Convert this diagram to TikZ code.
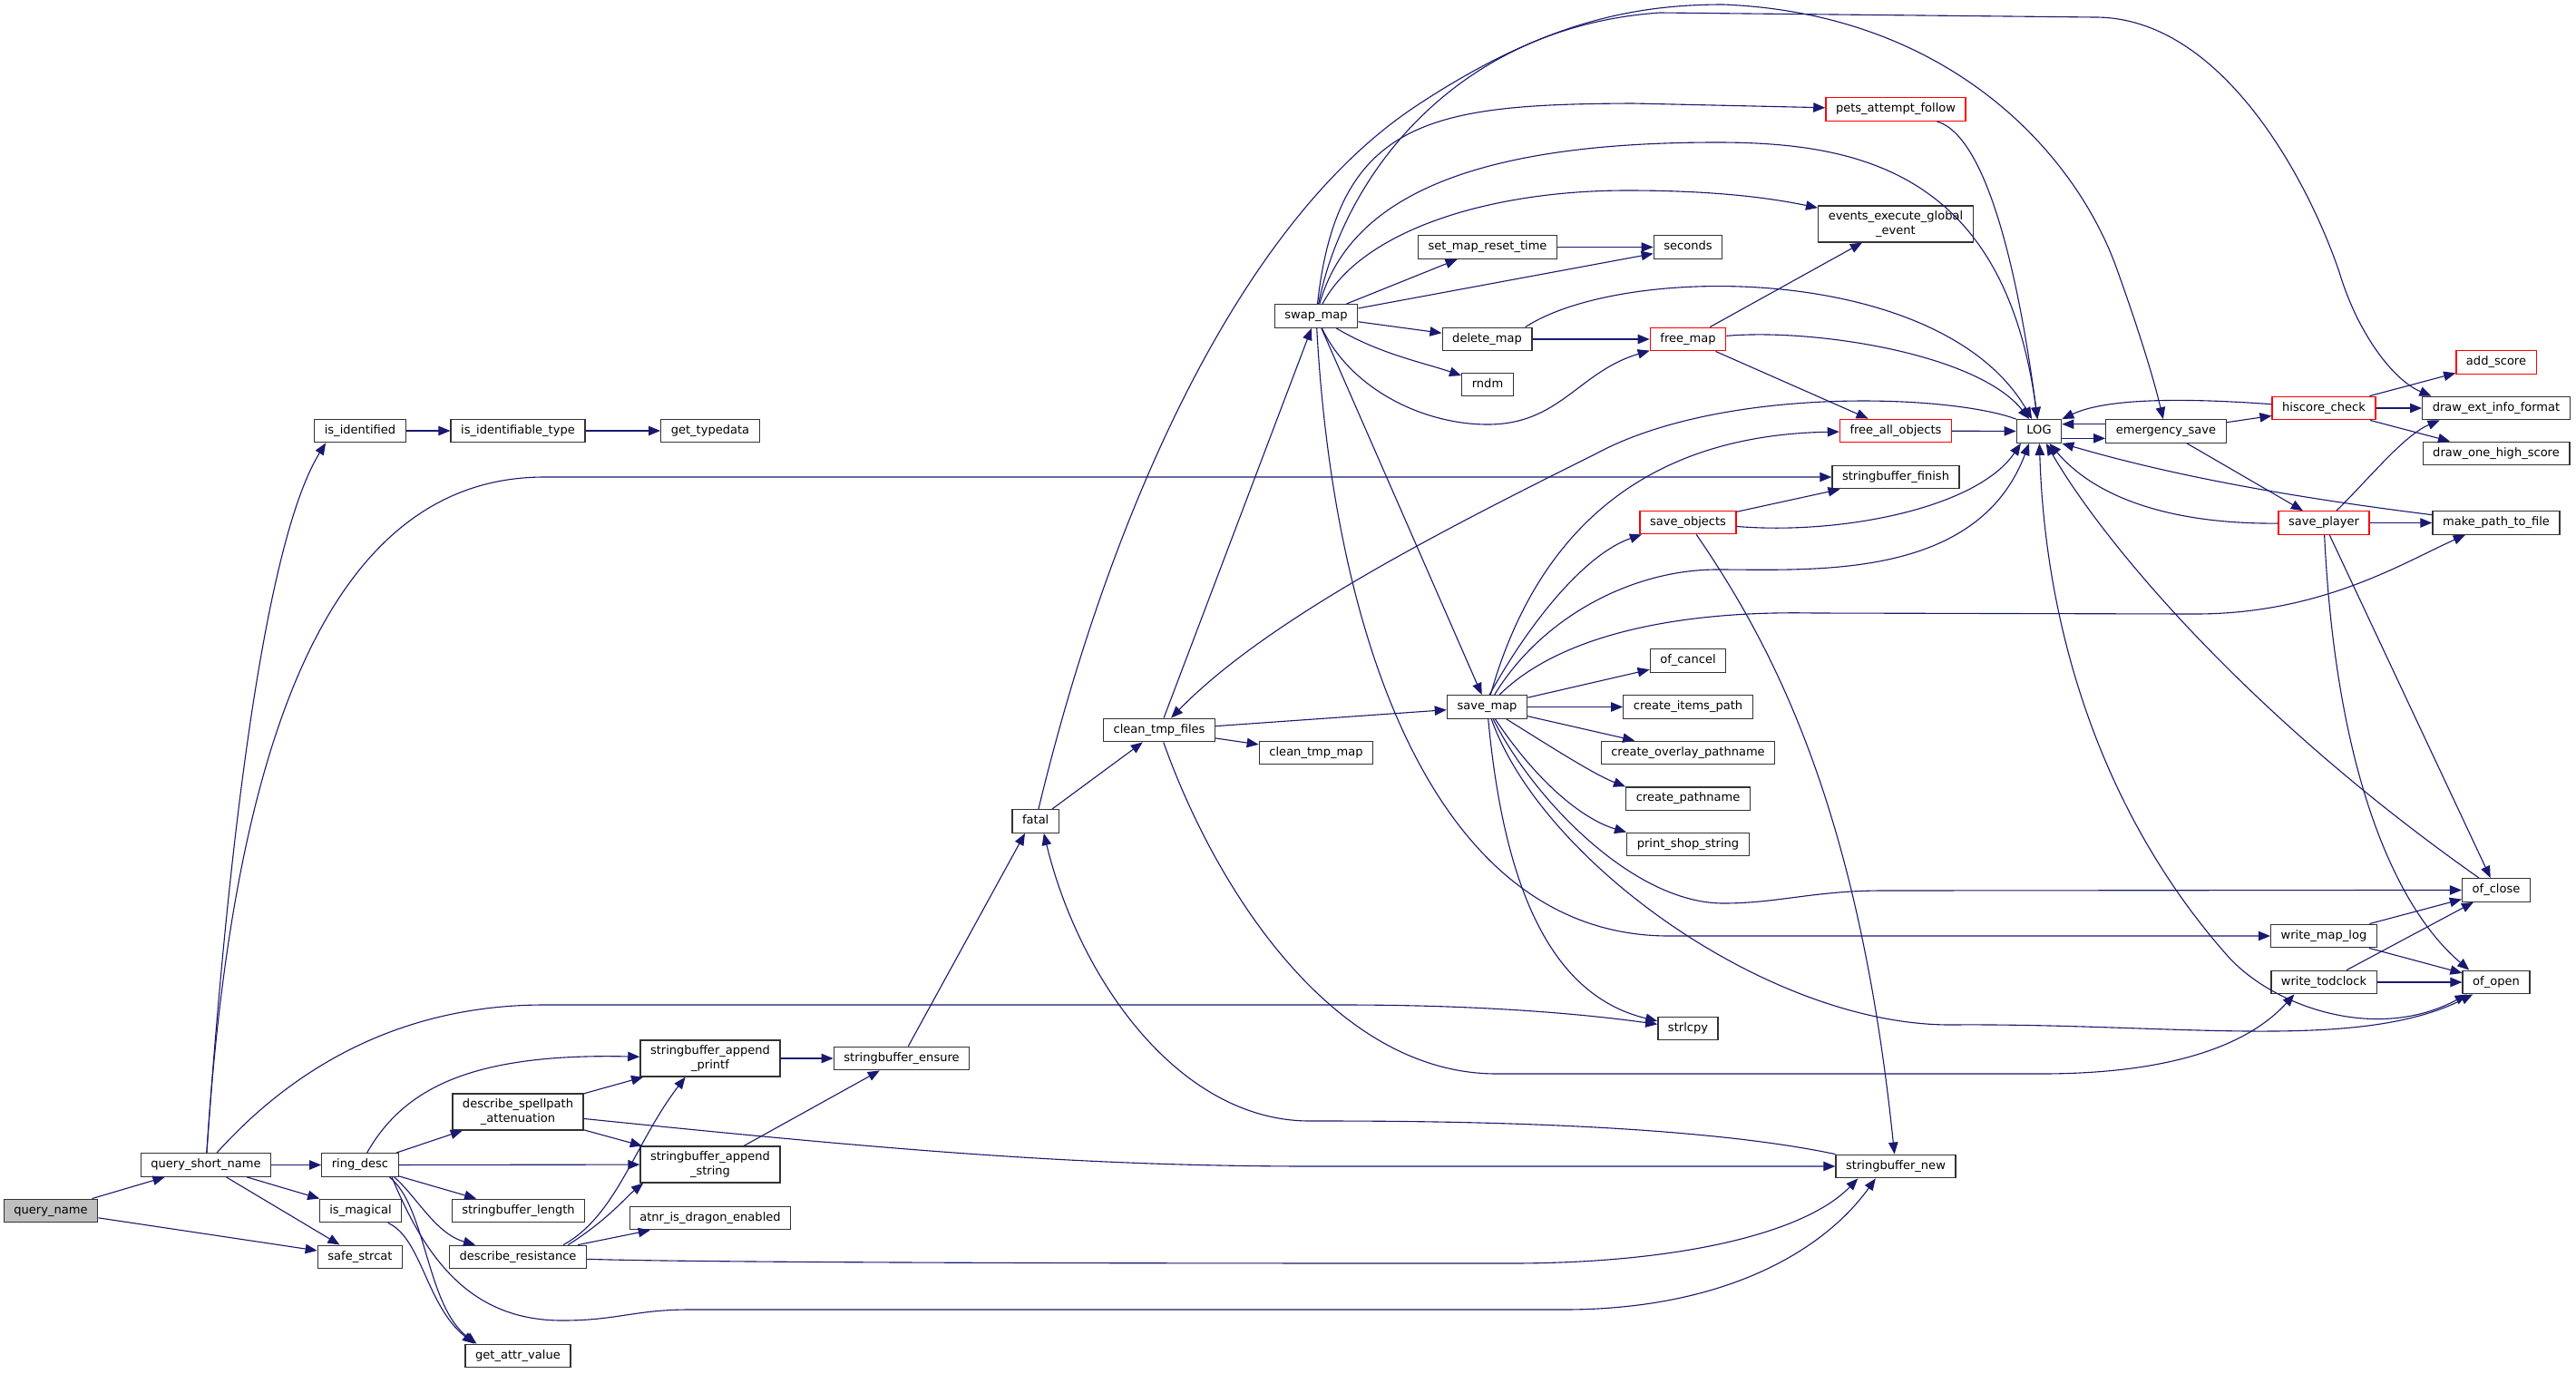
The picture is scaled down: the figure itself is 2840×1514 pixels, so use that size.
\documentclass[tikz,border=0pt]{standalone}
\usepackage{fontspec}
\setmainfont{DejaVu Sans}
\usetikzlibrary{arrows.meta}
\definecolor{edgeblue}{HTML}{191970}
\definecolor{rootgray}{HTML}{BFBFBF}
\definecolor{boxgray}{HTML}{333333}
\tikzset{
  box/.style={draw=boxgray, fill=white, line width=1pt, inner xsep=8.5pt, font=\fontsize{10}{12}\selectfont},
  fn/.style={box, inner ysep=3pt, minimum height=19.6pt, text height=7.3pt, text depth=2.3pt},
  fntwo/.style={box, align=center, inner ysep=4.3pt},
  redbox/.style={draw=red},
  root/.style={fill=rootgray},
  call/.style={->, color=edgeblue, line width=0.85pt}
}
\begin{document}
\begin{tikzpicture}[x=0.767pt, y=-0.767pt, >={Triangle[length=10pt,width=8pt]}]
  \fill[white] (0,0) rectangle (2840,1514);
  \useasboundingbox (0,0) rectangle (2840,1514);

  \node[fn, root] (qn) at (56,1335) {query\_name};
  \node[fn] (qsn) at (227,1284.5) {query\_short\_name};
  \node[fn] (rd) at (397,1284.5) {ring\_desc};
  \node[fn] (ism) at (397.5,1335) {is\_magical};
  \node[fn] (ssc) at (397,1386) {safe\_strcat};
  \node[fn] (isid) at (397,475) {is\_identified};
  \node[fn] (isidt) at (571,475) {is\_identifiable\_type};
  \node[fn] (gtd) at (783,475) {get\_typedata};
  \node[fntwo] (dsa) at (571,1226) {describe\_spellpath\\\_attenuation};
  \node[fn] (sbl) at (571.5,1335) {stringbuffer\_length};
  \node[fn] (dres) at (571,1386) {describe\_resistance};
  \node[fn] (gav) at (571,1495) {get\_attr\_value};
  \node[fntwo] (sbap) at (783,1167) {stringbuffer\_append\\\_printf};
  \node[fntwo] (sbas) at (783,1284) {stringbuffer\_append\\\_string};
  \node[fn] (atnr) at (783,1343) {atnr\_is\_dragon\_enabled};
  \node[fn] (sbe) at (994,1167) {stringbuffer\_ensure};
  \node[fn] (fatal) at (1141.7,905.5) {fatal};
  \node[fn] (ctf) at (1278,805) {clean\_tmp\_files};
  \node[fn] (ctm) at (1451,830) {clean\_tmp\_map};
  \node[fn] (swap) at (1451,348.5) {swap\_map};
  \node[fn] (smrt) at (1640,272.5) {set\_map\_reset\_time};
  \node[fn] (secs) at (1861,272.5) {seconds};
  \node[fn] (delm) at (1639.5,374) {delete\_map};
  \node[fn] (rndm) at (1640,424) {rndm};
  \node[fn] (smap) at (1639.5,779.5) {save\_map};
  \node[fn, redbox] (fmap) at (1861,374) {free\_map};
  \node[fn, redbox] (sobj) at (1861,576) {save\_objects};
  \node[fn] (ofcan) at (1861,728.5) {of\_cancel};
  \node[fn] (cip) at (1861,779.5) {create\_items\_path};
  \node[fn] (cop) at (1861,830) {create\_overlay\_pathname};
  \node[fn] (cpn) at (1861,880.7) {create\_pathname};
  \node[fn] (pss) at (1861,931) {print\_shop\_string};
  \node[fn] (strl) at (1861,1134) {strlcpy};
  \node[fn, redbox] (pets) at (2090,120.5) {pets\_attempt\_follow};
  \node[fntwo] (eeg) at (2090,247) {events\_execute\_global\\\_event};
  \node[fn, redbox] (fao) at (2090,475) {free\_all\_objects};
  \node[fn] (sbf) at (2090,526) {stringbuffer\_finish};
  \node[fn] (sbn) at (2090,1286) {stringbuffer\_new};
  \node[fn] (log) at (2248,475.5) {LOG};
  \node[fn] (esave) at (2388,475.5) {emergency\_save};
  \node[fn, redbox] (hsc) at (2562,450) {hiscore\_check};
  \node[fn, redbox] (splay) at (2562,576.5) {save\_player};
  \node[fn] (wml) at (2562,1032) {write\_map\_log};
  \node[fn] (wtc) at (2562,1083) {write\_todclock};
  \node[fn, redbox] (adds) at (2752,399.5) {add\_score};
  \node[fn] (deif) at (2752,450) {draw\_ext\_info\_format};
  \node[fn] (dohs) at (2752,500) {draw\_one\_high\_score};
  \node[fn] (mptf) at (2752,576.5) {make\_path\_to\_file};
  \node[fn] (ofcl) at (2752,981.4) {of\_close};
  \node[fn] (ofop) at (2752,1083) {of\_open};

  \path[call] (qn) edge (qsn);
  \path[call] (qn) edge (ssc);
  \draw[call] (qsn) .. controls (250,950) and (290,600) .. ([xshift=10pt]isid.south west);
  \draw[call] (qsn) .. controls (255,850) and (350,526) .. (600,526) -- (sbf);
  \path[call] (qsn) edge (rd);
  \path[call] (qsn) edge (ism);
  \path[call] (qsn) edge (ssc);
  \draw[call] (qsn) .. controls (330,1170) and (450,1108) .. (600,1108) -- (1480,1108) .. controls (1650,1108) and (1760,1120) .. (strl);
  \path[call] (isid) edge (isidt);
  \path[call] (isidt) edge (gtd);

  \draw[call] (rd) .. controls (445,1200) and (520,1161) .. (sbap);
  \path[call] (rd) edge (dsa);
  \path[call] (rd) edge (sbas);
  \path[call] (rd) edge (sbl);
  \draw[call] ([xshift=-4pt]rd.south east) .. controls (460,1320) and (480,1360) .. (dres);
  \draw[call] ([xshift=-8pt]rd.south east) .. controls (470,1330) and (470,1440) .. ([xshift=10pt]gav.north west);
  \draw[call] ([xshift=-6pt]rd.south east) .. controls (470,1390) and (520,1456) .. (620,1456) .. controls (680,1456) and (700,1444) .. (760,1444) -- (1724,1444) .. controls (1900,1444) and (2010,1380) .. ([xshift=-17pt]sbn.south);
  \draw[call] (ism) .. controls (465,1365) and (470,1440) .. ([xshift=8pt]gav.north west);
  \path[call] (dsa) edge (sbap);
  \path[call] (dsa) edge (sbas);
  \draw[call] (dsa) .. controls (1000,1270) and (1200,1286) .. (1450,1286) -- (sbn);
  \draw[call] ([xshift=-20pt]dres.north east) .. controls (680,1340) and (700,1260) .. ([xshift=-21pt]sbap.south);
  \draw[call] ([xshift=-16pt]dres.north east) .. controls (670,1345) and (690,1320) .. ([xshift=3pt]sbas.south west);
  \path[call] (dres) edge (atnr);
  \draw[call] (dres) .. controls (800,1393) and (1400,1393) .. (1665,1393) .. controls (1850,1393) and (1990,1360) .. ([xshift=-32pt]sbn.south);
  \path[call] (sbap) edge (sbe);
  \path[call] (sbas) edge (sbe);
  \path[call] (sbe) edge ([xshift=-9pt]fatal.south);
  \draw[call] (sbn.north west) .. controls (1850,1236) and (1550,1236) .. (1444,1236) .. controls (1300,1236) and (1190,1080) .. ([xshift=7pt]fatal.south);

  \path[call] (fatal) edge (ctf);
  \draw[call] (fatal) .. controls (1220,580) and (1360,250) .. (1561,117) .. controls (1700,25) and (1800,5) .. (1900,5) .. controls (2150,15) and (2290,170) .. (2335,300) .. controls (2360,370) and (2375,420) .. (esave);
  \path[call] (ctf) edge (swap);
  \path[call] (ctf) edge (smap);
  \path[call] (ctf) edge (ctm);
  \draw[call] (ctf) .. controls (1340,980) and (1470,1184) .. (1650,1184) -- (2250,1184) .. controls (2420,1184) and (2490,1140) .. ([xshift=-25pt]wtc.south);

  \draw[call] (swap) .. controls (1475,130) and (1580,115) .. (1800,114) -- (pets);
  \draw[call] (swap) .. controls (1490,210) and (1640,157) .. (1893,157) .. controls (2050,157) and (2210,190) .. (log);
  \draw[call] (swap) .. controls (1500,255) and (1640,210) .. (1794,210) .. controls (1900,210) and (1960,220) .. (eeg);
  \path[call] (swap) edge (smrt);
  \path[call] (swap) edge (secs);
  \path[call] (swap) edge (delm);
  \draw[call] (swap) .. controls (1490,430) and (1570,468) .. (1640,468) .. controls (1720,468) and (1740,410) .. (fmap);
  \draw[call] (swap) .. controls (1520,390) and (1570,400) .. (rndm);
  \path[call] (swap) edge (smap);
  \draw[call] (swap) .. controls (1470,700) and (1580,1032) .. (1840,1032) -- (wml);
  \draw[call] (swap) .. controls (1480,200) and (1600,30) .. (1830,14) -- (2310,19) .. controls (2450,19) and (2545,200) .. (2579,300) .. controls (2600,370) and (2640,420) .. ([xshift=8pt]deif.north west);
  \path[call] (smrt) edge (secs);
  \path[call] (delm) edge (fmap);
  \draw[call] ([xshift=-6pt]delm.north east) .. controls (1790,290) and (2140,290) .. (log);
  \path[call] (fmap) edge (eeg);
  \path[call] (fmap) edge (fao);
  \draw[call] (fmap) .. controls (2000,362) and (2180,390) .. (log);
  \draw[call] (pets) .. controls (2190,150) and (2225,300) .. (log);

  \draw[call] ([xshift=2pt]smap.north) .. controls (1690,680) and (1750,610) .. ([xshift=2pt]sobj.south west);
  \draw[call] (smap) .. controls (1690,600) and (1800,480) .. (fao);
  \draw[call] (smap) .. controls (1700,680) and (1800,628) .. (1893,628) .. controls (2000,628) and (2180,640) .. ([xshift=11pt]log.south west);
  \draw[call] (smap) .. controls (1720,700) and (1850,673) .. (2000,676) -- (2420,677) .. controls (2560,677) and (2650,620) .. ([xshift=28pt]mptf.south west);
  \path[call] (smap) edge (ofcan);
  \path[call] (smap) edge (cip);
  \path[call] (smap) edge (cop);
  \draw[call] (smap) .. controls (1720,830) and (1760,855) .. (cpn.north west);
  \draw[call] (smap) .. controls (1700,870) and (1750,905) .. (pss.north west);
  \draw[call] (smap) .. controls (1690,880) and (1800,996) .. (1900,996) .. controls (1960,996) and (2000,982) .. (2076,982) -- (ofcl);
  \draw[call] (smap) .. controls (1700,950) and (1950,1130) .. (2150,1130) .. controls (2400,1128) and (2600,1160) .. ([xshift=9pt]ofop.south west);
  \draw[call] (smap) .. controls (1660,1000) and (1720,1100) .. (strl);
  \path[call] (sobj) edge (sbf);
  \draw[call] (sobj) .. controls (2030,590) and (2180,560) .. ([xshift=4pt]log.south west);
  \draw[call] (sobj) .. controls (1960,720) and (2050,900) .. (sbn);
  \path[call] (fao) edge (log);

  \draw[call] (log.north west) .. controls (2150,435) and (1900,425) .. (1760,500) .. controls (1600,580) and (1400,680) .. (ctf);
  \path[call] ([yshift=-6pt]log.east) edge ([yshift=-6pt]esave.west);
  \path[call] ([yshift=6pt]esave.west) edge ([yshift=6pt]log.east);
  \path[call] (esave) edge (hsc);
  \path[call] (esave) edge (splay);
  \draw[call] (hsc) .. controls (2400,438) and (2320,440) .. (log.north east);
  \path[call] (hsc) edge (adds);
  \path[call] (hsc) edge (deif);
  \path[call] (hsc) edge (dohs);
  \draw[call] (splay) .. controls (2610,530) and (2650,480) .. ([xshift=15pt]deif.south west);
  \path[call] (splay) edge (mptf);
  \path[call] (splay) edge (ofcl);
  \draw[call] (splay) .. controls (2575,850) and (2640,1000) .. ([xshift=6pt]ofop.north west);
  \draw[call] (splay) .. controls (2420,578) and (2320,560) .. (log);
  \draw[call] (mptf) .. controls (2500,545) and (2380,520) .. (log.south east);
  \draw[call] (ofcl) .. controls (2480,790) and (2320,600) .. (log);
  \draw[call, <->] (log) .. controls (2255,700) and (2320,900) .. (2455,1053) .. controls (2505,1110) and (2620,1150) .. ([xshift=4pt]ofop.south west);
  \path[call] (wml) edge (ofcl);
  \path[call] (wml) edge (ofop);
  \path[call] (wtc) edge (ofcl);
  \path[call] (wtc) edge (ofop);
\end{tikzpicture}
\end{document}
